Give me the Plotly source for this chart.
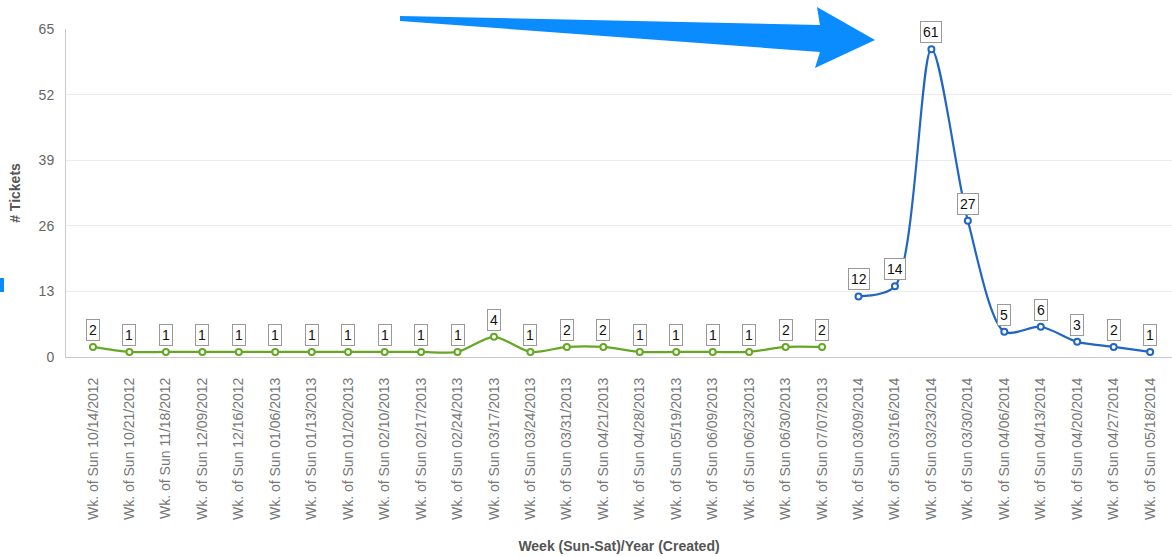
import plotly.graph_objects as go

# weekly ticket counts, two separate periods
weeks_2012 = ["10/14/2012", "10/21/2012", "11/18/2012", "12/09/2012", "12/16/2012",
              "01/06/2013", "01/13/2013", "01/20/2013", "02/10/2013", "02/17/2013",
              "02/24/2013", "03/17/2013", "03/24/2013", "03/31/2013", "04/21/2013",
              "04/28/2013", "05/19/2013", "06/09/2013", "06/23/2013", "06/30/2013",
              "07/07/2013"]
tickets_2012 = [2, 1, 1, 1, 1, 1, 1, 1, 1, 1, 1, 4, 1, 2, 2, 1, 1, 1, 1, 2, 2]

weeks_2014 = ["03/09/2014", "03/16/2014", "03/23/2014", "03/30/2014", "04/06/2014",
              "04/13/2014", "04/20/2014", "04/27/2014", "05/18/2014"]
tickets_2014 = [12, 14, 61, 27, 5, 6, 3, 2, 1]

y_ticks = [0, 13, 26, 39, 52, 65]

GREEN = "#66a826"
BLUE = "#2266c4"
ARROW = "#0a8cff"

cats_2012 = ["Wk. of Sun " + w for w in weeks_2012]
cats_2014 = ["Wk. of Sun " + w for w in weeks_2014]
all_cats = cats_2012 + cats_2014

W, H = 1172, 556
L, R, T, B = 66, 0, 29, 199


def px2paper(px, py):
    return (px - L) / (W - L - R), (H - B - py) / (H - B - T)


def path_from(points):
    pts = [px2paper(x, y) for x, y in points]
    return "M " + " L ".join(f"{x:.4f},{y:.4f}" for x, y in pts) + " Z"


fig = go.Figure()

for cats, vals, color in [(cats_2012, tickets_2012, GREEN), (cats_2014, tickets_2014, BLUE)]:
    fig.add_trace(go.Scatter(
        x=cats, y=vals, mode="lines+markers",
        line=dict(color=color, width=2.2, shape="spline", smoothing=0.8),
        marker=dict(size=6, color="white", line=dict(color=color, width=2)),
        showlegend=False, hoverinfo="x+y", cliponaxis=False,
    ))
    for c, v in zip(cats, vals):
        fig.add_annotation(
            x=c, y=v, text=str(v), showarrow=False, yshift=17,
            font=dict(family="Liberation Sans, Arial", size=14, color="#111"),
            bgcolor="white", bordercolor="#999", borderwidth=1, borderpad=2,
        )

# the big pointer arrow drawn on top of the chart
arrow_pts = [(400, 16), (820, 25), (817, 7), (875, 40), (815, 68), (820, 52), (400, 21)]
fig.add_shape(type="path", xref="paper", yref="paper", path=path_from(arrow_pts),
              fillcolor=ARROW, line=dict(width=0), layer="above")
# little blue tick at the left edge
x0, y0 = px2paper(0, 278)
x1, y1 = px2paper(4, 292)
fig.add_shape(type="rect", xref="paper", yref="paper", x0=x0, y0=y0, x1=x1, y1=y1,
              fillcolor=ARROW, line=dict(width=0))

fig.update_layout(
    width=W, height=H,
    margin=dict(l=L, r=R, t=T, b=B),
    paper_bgcolor="white", plot_bgcolor="white",
    font=dict(family="Liberation Sans, Arial", color="#666"),
    xaxis=dict(
        type="category", categoryorder="array", categoryarray=all_cats,
        range=[-0.74, len(all_cats) - 1 + 0.6], automargin=False,
        tickangle=-90, tickfont=dict(size=14, color="#777"),
        showgrid=False, showline=True, linecolor="#c8c8c8", linewidth=1,
        ticks="", ticklabelstandoff=14,
        title=dict(text="<b>Week (Sun-Sat)/Year (Created)</b>",
                   font=dict(size=14, color="#555"), standoff=22),
    ),
    yaxis=dict(
        range=[0, 65], tickvals=y_ticks, automargin=False,
        tickfont=dict(size=14, color="#666"),
        showgrid=True, gridcolor="#ebebeb", gridwidth=1,
        showline=True, linecolor="#c8c8c8", linewidth=1,
        zeroline=False, ticks="", ticklabelstandoff=8,
        title=dict(text="<b># Tickets</b>", font=dict(size=14, color="#555"), standoff=14),
    ),
)

# drop the page's default body margin so the figure sits at the window corner
fig.write_html("out.html", config={"displayModeBar": False},
               post_script="document.body.style.margin='0';")
